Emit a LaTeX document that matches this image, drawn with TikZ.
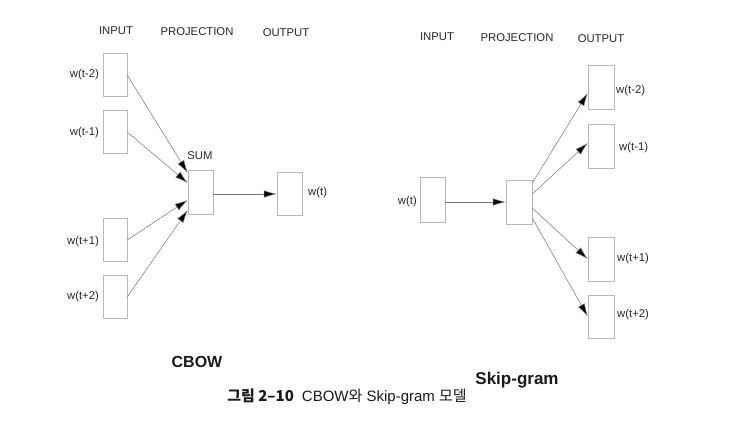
\documentclass[tikz,border=0pt]{standalone}
\usepackage{fontspec}
\setmainfont{Liberation Sans}
\newfontfamily\krfont{Noto Sans CJK KR}
\usetikzlibrary{arrows.meta,calc}
\begin{document}
\begin{tikzpicture}[x=1pt,y=-1pt,
  cell/.style={draw=black!28,line width=0.5pt,minimum width=24pt,minimum height=43pt,inner sep=0pt,fill=white},
  lab/.style={font=\fontsize{11.3}{13}\selectfont,text=black!85,inner sep=0pt},
  wlab/.style={font=\fontsize{11.3}{13}\selectfont,text=black!85,inner sep=0pt},
  conn/.style={draw=black!55,line width=0.5pt,-{Latex[length=13pt,width=7.5pt,fill=black]}},
  title/.style={font=\bfseries\fontsize{16}{18}\selectfont,text=black!90,inner sep=0pt}]
\useasboundingbox (0,0) rectangle (743,428);
% ---------- CBOW ----------
\node[lab] (cin) at (116,31) {INPUT};
\node[lab] (cpr) at (197,32) {PROJECTION};
\node[lab] (cout) at (286,33) {OUTPUT};
\node[cell] (in1) at (115,75) {};
\node[cell] (in2) at (115,132) {};
\node[cell] (in3) at (115,240) {};
\node[cell] (in4) at (115,297) {};
\node[cell,minimum width=25pt,minimum height=44pt] (sum) at (200.5,192) {};
\node[cell,minimum width=25pt] (out) at (289.5,194) {};
\node[wlab,anchor=east] (l1) at (99,75) {w(t-2)};
\node[wlab,anchor=east] (l2) at (99,133) {w(t-1)};
\node[wlab,anchor=east] (l3) at (99,242) {w(t+1)};
\node[wlab,anchor=east] (l4) at (99,297) {w(t+2)};
\node[lab] (sumlab) at (200,156) {SUM};
\node[wlab,anchor=west] (lo) at (308,193) {w(t)};
\coordinate (s1) at ($(sum.west)+(0,-19)$);
\coordinate (s2) at ($(sum.west)+(0,-9)$);
\coordinate (s3) at ($(sum.west)+(0,8)$);
\coordinate (s4) at ($(sum.west)+(0,18)$);
\draw[conn] (in1.east) -- (s1);
\draw[conn] (in2.east) -- (s2);
\draw[conn] (in3.east) -- (s3);
\draw[conn] (in4.east) -- (s4);
\draw[conn] (sum.east |- out.west) -- (out.west);
\node[title] (cbow) at (197,362) {CBOW};
% ---------- Skip-gram ----------
\node[lab] (sin) at (437,37) {INPUT};
\node[lab] (spr) at (517,38) {PROJECTION};
\node[lab] (sout) at (601,39) {OUTPUT};
\node[cell,minimum width=25pt,minimum height=45pt] (win) at (432.5,200) {};
\node[cell,minimum width=26pt,minimum height=44pt] (proj) at (519,202) {};
\node[cell,minimum width=26pt,minimum height=44pt] (o1) at (601,87) {};
\node[cell,minimum width=26pt,minimum height=44pt] (o2) at (601,146) {};
\node[cell,minimum width=26pt,minimum height=44pt] (o3) at (601,259) {};
\node[cell,minimum width=26pt,minimum height=43pt] (o4) at (601,316.5) {};
\node[wlab,anchor=east] (lw) at (417,202) {w(t)};
\node[wlab,anchor=west] (r1) at (616,91) {w(t-2)};
\node[wlab,anchor=west] (r2) at (619,148) {w(t-1)};
\node[wlab,anchor=west] (r3) at (617,259) {w(t+1)};
\node[wlab,anchor=west] (r4) at (617,315) {w(t+2)};
\draw[conn] (win.east |- proj.west) -- (proj.west);
\coordinate (p1) at ($(proj.east)+(0,-19)$);
\coordinate (p2) at ($(proj.east)+(0,-8)$);
\coordinate (p3) at ($(proj.east)+(0,6)$);
\coordinate (p4) at ($(proj.east)+(0,16)$);
\coordinate (e1) at ($(o1.west)+(0,6)$);
\coordinate (e2) at ($(o2.west)+(0,-3)$);
\draw[conn] (p1) -- (e1);
\draw[conn] (p2) -- (e2);
\draw[conn] (p3) -- (o3.west);
\draw[conn] (p4) -- (o4.west);
\node[title,font=\bfseries\fontsize{17}{19}\selectfont] (skip) at (517,380) {Skip-gram};
% ---------- caption ----------
\node[inner sep=0pt,text=black!90] (cap) at (347,397) {{\krfont\bfseries\fontsize{15}{17}\selectfont 그림 2–10}\hspace{8pt}{\fontsize{15}{17}\selectfont CBOW{\krfont 와} Skip-gram {\krfont 모델}}};
\end{tikzpicture}
\end{document}
